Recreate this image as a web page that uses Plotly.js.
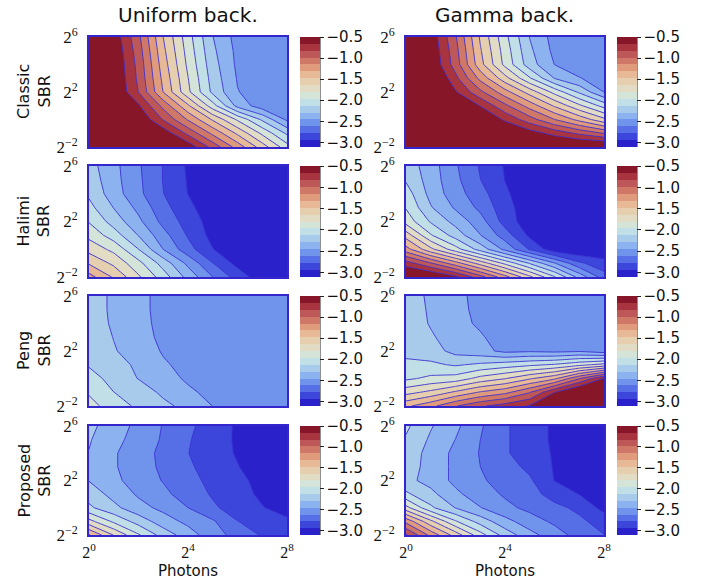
<!DOCTYPE html>
<html>
<head>
<meta charset="utf-8">
<script src="https://cdn.plot.ly/plotly-3.0.1.min.js"></script>
<style>html,body{margin:0;padding:0;background:#fff;}#chart{width:708px;height:581px;}</style>
</head>
<body>
<div id="chart"></div>
<script>
// Grid: x = log2(photons), y = log2(SBR)
const photonsExp = [0, 1, 2, 3, 4, 5, 6, 7, 8];
const sbrExp = [-2, -1, 0, 1, 2, 3, 4, 5, 6];
const xTickVals = [0, 4, 8];
const xTickText = ['2<sup>0</sup>', '2<sup>4</sup>', '2<sup>8</sup>'];
const yTickVals = [-2, 2, 6];
const yTickText = ['2<sup>\u22122</sup>', '2<sup>2</sup>', '2<sup>6</sup>'];
const cbTickVals = [-0.5, -1.0, -1.5, -2.0, -2.5, -3.0];
const cbTickText = ['\u22120.5', '\u22121.0', '\u22121.5', '\u22122.0', '\u22122.5', '\u22123.0'];
const columnTitles = ['Uniform back.', 'Gamma back.'];
const rowTitles = ['Classic<br>SBR', 'Halimi<br>SBR', 'Peng<br>SBR', 'Proposed<br>SBR'];
const xTitle = 'Photons';

// z rows: SBR exponent -2 .. 6 ; columns: photon exponent 0 .. 8 (log10 error)
const classicUniform = [
  [-0.2, -0.3, -0.3, -0.3, -0.55, -0.885, -1.22, -1.56, -1.9],
  [-0.2, -0.3, -0.3, -0.55, -0.87, -1.19, -1.51, -1.84, -2.16],
  [-0.2, -0.3, -0.5, -0.84, -1.17, -1.5, -1.83, -2.16, -2.49],
  [-0.25, -0.35, -0.64, -1.04, -1.45, -1.9, -2.35, -2.55, -2.56],
  [-0.3, -0.475, -0.83, -1.32, -1.77, -2.17, -2.45, -2.54, -2.57],
  [-0.3, -0.49, -0.86, -1.36, -1.8, -2.2, -2.47, -2.54, -2.57],
  [-0.3, -0.5, -0.88, -1.4, -1.84, -2.23, -2.49, -2.54, -2.57],
  [-0.3, -0.52, -0.91, -1.44, -1.87, -2.26, -2.5, -2.55, -2.58],
  [-0.3, -0.55, -0.95, -1.48, -1.9, -2.29, -2.52, -2.55, -2.58]
];
const classicGamma = [
  [-0.2, -0.25, -0.3, -0.3, -0.3, -0.35, -0.4, -0.4, -0.4],
  [-0.2, -0.25, -0.3, -0.35, -0.45, -0.58, -0.72, -0.86, -1.0],
  [-0.25, -0.3, -0.3, -0.45, -0.695, -0.92, -1.15, -1.37, -1.6],
  [-0.3, -0.32, -0.45, -0.67, -0.95, -1.22, -1.5, -1.77, -2.03],
  [-0.3, -0.35, -0.645, -0.95, -1.25, -1.55, -1.86, -2.16, -2.46],
  [-0.3, -0.4, -0.78, -1.2, -1.58, -1.95, -2.3, -2.45, -2.52],
  [-0.3, -0.5, -0.9, -1.42, -1.85, -2.22, -2.46, -2.53, -2.56],
  [-0.3, -0.52, -0.93, -1.46, -1.88, -2.26, -2.5, -2.55, -2.57],
  [-0.3, -0.55, -0.97, -1.5, -1.92, -2.3, -2.52, -2.56, -2.58]
];
const halimiUniform = [
  [-1.25, -1.5, -1.78, -2.05, -2.35, -2.62, -2.85, -3.05, -3.2],
  [-1.5, -1.68, -1.92, -2.2, -2.5, -2.78, -3.0, -3.15, -3.2],
  [-1.7, -1.85, -2.13, -2.46, -2.72, -2.94, -3.1, -3.2, -3.2],
  [-1.85, -2.05, -2.3, -2.56, -2.8, -3.0, -3.15, -3.2, -3.2],
  [-1.98, -2.2, -2.42, -2.67, -2.85, -3.02, -3.2, -3.2, -3.2],
  [-2.08, -2.3, -2.5, -2.73, -2.9, -3.06, -3.2, -3.2, -3.2],
  [-2.16, -2.38, -2.58, -2.78, -2.95, -3.1, -3.2, -3.2, -3.2],
  [-2.2, -2.4, -2.59, -2.79, -2.96, -3.1, -3.2, -3.2, -3.2],
  [-2.23, -2.41, -2.6, -2.79, -2.97, -3.1, -3.2, -3.2, -3.2]
];
const halimiGamma = [
  [-0.4, -0.45, -0.62, -0.92, -1.25, -1.6, -1.95, -2.35, -2.7],
  [-0.75, -0.98, -1.25, -1.55, -1.85, -2.15, -2.45, -2.75, -2.9],
  [-1.25, -1.6, -1.9, -2.2, -2.5, -2.8, -3.05, -3.1, -3.05],
  [-1.55, -1.95, -2.2, -2.45, -2.7, -2.98, -3.1, -3.2, -3.2],
  [-1.87, -2.15, -2.35, -2.55, -2.85, -3.05, -3.15, -3.2, -3.2],
  [-1.98, -2.28, -2.48, -2.66, -2.88, -3.05, -3.2, -3.2, -3.2],
  [-2.05, -2.35, -2.55, -2.72, -2.92, -3.05, -3.2, -3.2, -3.2],
  [-2.15, -2.37, -2.58, -2.78, -2.95, -3.08, -3.2, -3.2, -3.2],
  [-2.2, -2.38, -2.6, -2.8, -2.96, -3.1, -3.2, -3.2, -3.2]
];
const pengUniform = [
  [-1.9, -2.06, -2.16, -2.25, -2.35, -2.46, -2.52, -2.55, -2.58],
  [-1.99, -2.13, -2.2, -2.33, -2.43, -2.5, -2.55, -2.57, -2.58],
  [-2.05, -2.2, -2.3, -2.4, -2.48, -2.55, -2.57, -2.58, -2.58],
  [-2.15, -2.22, -2.33, -2.44, -2.5, -2.56, -2.57, -2.58, -2.58],
  [-2.15, -2.28, -2.38, -2.47, -2.53, -2.56, -2.57, -2.58, -2.58],
  [-2.18, -2.3, -2.4, -2.49, -2.54, -2.56, -2.57, -2.58, -2.58],
  [-2.2, -2.32, -2.41, -2.5, -2.55, -2.56, -2.57, -2.58, -2.58],
  [-2.2, -2.33, -2.42, -2.5, -2.55, -2.57, -2.57, -2.58, -2.58],
  [-2.2, -2.33, -2.42, -2.5, -2.55, -2.57, -2.58, -2.58, -2.58]
];
const pengGamma = [
  [-1.35, -1.2, -1.0, -0.85, -0.75, -0.65, -0.4, -0.4, -0.4],
  [-1.7, -1.6, -1.45, -1.3, -1.2, -1.0, -0.67, -0.4, -0.4],
  [-2.0, -1.93, -1.9, -1.75, -1.65, -1.5, -1.35, -1.0, -0.65],
  [-2.1, -2.1, -2.15, -2.1, -2.05, -2.0, -1.95, -1.85, -1.75],
  [-2.17, -2.22, -2.35, -2.4, -2.5, -2.48, -2.5, -2.48, -2.55],
  [-2.18, -2.27, -2.39, -2.44, -2.53, -2.55, -2.56, -2.57, -2.57],
  [-2.18, -2.31, -2.41, -2.48, -2.55, -2.56, -2.57, -2.58, -2.58],
  [-2.19, -2.32, -2.42, -2.49, -2.55, -2.56, -2.57, -2.58, -2.58],
  [-2.2, -2.33, -2.42, -2.5, -2.55, -2.56, -2.57, -2.58, -2.58]
];
const proposedUniform = [
  [-1.3, -1.65, -1.95, -2.2, -2.38, -2.55, -2.68, -2.8, -2.88],
  [-1.75, -2.0, -2.2, -2.38, -2.5, -2.6, -2.78, -2.85, -2.92],
  [-2.1, -2.25, -2.4, -2.5, -2.62, -2.76, -2.85, -2.94, -3.0],
  [-2.2, -2.35, -2.48, -2.58, -2.7, -2.8, -2.9, -2.97, -3.03],
  [-2.3, -2.42, -2.53, -2.63, -2.74, -2.82, -2.92, -2.98, -3.05],
  [-2.3, -2.44, -2.55, -2.65, -2.76, -2.85, -2.94, -3.02, -3.08],
  [-2.3, -2.44, -2.55, -2.66, -2.78, -2.88, -2.96, -3.05, -3.1],
  [-2.28, -2.41, -2.52, -2.64, -2.77, -2.87, -2.97, -3.05, -3.1],
  [-2.25, -2.38, -2.5, -2.63, -2.75, -2.86, -2.97, -3.05, -3.1]
];
const proposedGamma = [
  [-0.8, -1.2, -1.55, -1.9, -2.2, -2.4, -2.55, -2.68, -2.78],
  [-1.2, -1.6, -1.95, -2.2, -2.4, -2.55, -2.65, -2.75, -2.85],
  [-1.75, -2.1, -2.3, -2.45, -2.58, -2.66, -2.74, -2.82, -3.0],
  [-2.1, -2.25, -2.42, -2.55, -2.64, -2.72, -2.85, -2.95, -3.05],
  [-2.25, -2.35, -2.5, -2.6, -2.68, -2.76, -2.95, -3.05, -3.1],
  [-2.22, -2.35, -2.5, -2.62, -2.72, -2.82, -2.96, -3.05, -3.1],
  [-2.2, -2.35, -2.5, -2.63, -2.76, -2.88, -2.96, -3.05, -3.1],
  [-2.15, -2.32, -2.46, -2.62, -2.76, -2.88, -2.97, -3.05, -3.1],
  [-2.1, -2.28, -2.42, -2.6, -2.76, -2.88, -2.97, -3.05, -3.1]
];

// colour bands, lowest to highest
const bandColors = ['#2b21cb', '#3c46db', '#566fe6', '#7093ec', '#8cb3ef', '#a8cbec',
  '#c0dfe6', '#d5e4d8', '#e2dcc4', '#e6cfae', '#e7b996', '#df9b7c', '#d07868',
  '#be5858', '#a8343f', '#871628'];
const cMin = -3.11, cMax = -0.5;
const nBands = bandColors.length;
const step = (cMax - cMin) / nBands;

const panels = [classicUniform, classicGamma, halimiUniform, halimiGamma,
  pengUniform, pengGamma, proposedUniform, proposedGamma];

const W = 708, H = 581;
const colX = [[89, 287], [406, 604]];
const rowY = [[37, 147], [166, 277], [296, 406], [426, 535]];
const cbLeft = [300, 617];
const cbThick = 20;
const frameColor = '#3326cc';
const lineColor = '#3a30d0';

// contour colorscale: stops k/(n-1) map to band k
const contourScale = bandColors.map((c, k) => [k / (nBands - 1), c]);
// stepped colorbar scale
const barScale = [];
bandColors.forEach((c, k) => { barScale.push([k / nBands, c]); barScale.push([(k + 1) / nBands, c]); });

const data = [];
const layout = {
  width: W, height: H, margin: {l: 0, r: 0, t: 0, b: 0},
  paper_bgcolor: '#fff', plot_bgcolor: '#fff', showlegend: false,
  font: {family: 'DejaVu Sans', color: '#111'},
  annotations: [], shapes: []
};

panels.forEach((z, i) => {
  const r = Math.floor(i / 2), c = i % 2;
  const id = i === 0 ? '' : String(i + 1);
  const xd = [colX[c][0] / W, colX[c][1] / W];
  const yd = [1 - rowY[r][1] / H, 1 - rowY[r][0] / H];
  data.push({
    type: 'contour', x: photonsExp, y: sbrExp, z: z,
    xaxis: 'x' + id, yaxis: 'y' + id,
    zmin: cMin, zmax: cMax, autocontour: false,
    contours: {start: cMin + step, end: cMax - step + 0.005, size: step, coloring: 'fill', showlines: true},
    colorscale: contourScale, showscale: false,
    line: {color: lineColor, width: 0.9, smoothing: 0},
    hoverinfo: 'skip'
  });
  data.push({
    type: 'scatter', mode: 'markers', x: [4, 4], y: [2, 2],
    xaxis: 'x' + id, yaxis: 'y' + id, hoverinfo: 'skip',
    marker: {
      size: 1, opacity: 0, color: [cMin, cMax], cmin: cMin, cmax: cMax,
      colorscale: barScale, showscale: true,
      colorbar: {
        x: cbLeft[c] / W, xanchor: 'left', xref: 'paper', xpad: 0,
        y: (yd[0] + yd[1]) / 2, yanchor: 'middle', yref: 'paper', ypad: 0,
        len: yd[1] - yd[0], lenmode: 'fraction', thickness: cbThick, thicknessmode: 'pixels',
        outlinewidth: 0, ticks: 'outside', ticklen: 4, tickwidth: 1, tickcolor: '#222',
        tickvals: cbTickVals, ticktext: cbTickText,
        tickfont: {family: 'DejaVu Sans', size: 15, color: '#111'}
      }
    }
  });
  layout['xaxis' + id] = {
    domain: xd, anchor: 'y' + id, range: [0, 8], fixedrange: true,
    tickvals: xTickVals, ticktext: xTickText, showticklabels: r === 3,
    ticks: 'outside', ticklen: 2, tickcolor: 'rgba(0,0,0,0)',
    tickfont: {family: 'Liberation Serif', size: 16, color: '#111'},
    showline: true, mirror: true, linecolor: frameColor, linewidth: 2,
    showgrid: false, zeroline: false
  };
  layout['yaxis' + id] = {
    domain: yd, anchor: 'x' + id, range: [-2, 6], fixedrange: true,
    tickvals: yTickVals, ticktext: yTickText,
    ticks: 'outside', ticklen: 6, tickcolor: 'rgba(0,0,0,0)',
    tickfont: {family: 'Liberation Serif', size: 17, color: '#111'},
    showline: true, mirror: true, linecolor: frameColor, linewidth: 2,
    showgrid: false, zeroline: false
  };
  layout.shapes.push({
    type: 'line', xref: 'paper', yref: 'paper',
    x0: (cbLeft[c] + cbThick) / W, x1: (cbLeft[c] + cbThick) / W, y0: yd[0], y1: yd[1],
    line: {color: '#222', width: 1}
  });
});

columnTitles.forEach((t, c) => {
  layout.annotations.push({text: t, xref: 'paper', yref: 'paper', showarrow: false,
    x: (colX[c][0] + colX[c][1]) / 2 / W, y: 1 - 15 / H, xanchor: 'center', yanchor: 'middle',
    font: {family: 'DejaVu Sans', size: 20, color: '#111'}});
  layout.annotations.push({text: xTitle, xref: 'paper', yref: 'paper', showarrow: false,
    x: (colX[c][0] + colX[c][1]) / 2 / W, y: 1 - 571 / H, xanchor: 'center', yanchor: 'middle',
    borderpad: 0, font: {family: 'DejaVu Sans', size: 15, color: '#111'}});
});
rowTitles.forEach((t, r) => {
  layout.annotations.push({text: t, xref: 'paper', yref: 'paper', showarrow: false,
    x: 34 / W, y: 1 - (rowY[r][0] + rowY[r][1]) / 2 / H, xanchor: 'center', yanchor: 'middle',
    textangle: -90, font: {family: 'DejaVu Sans', size: 16, color: '#111'}});
});

Plotly.newPlot('chart', data, layout, {staticPlot: true, displayModeBar: false});
</script>
</body>
</html>
